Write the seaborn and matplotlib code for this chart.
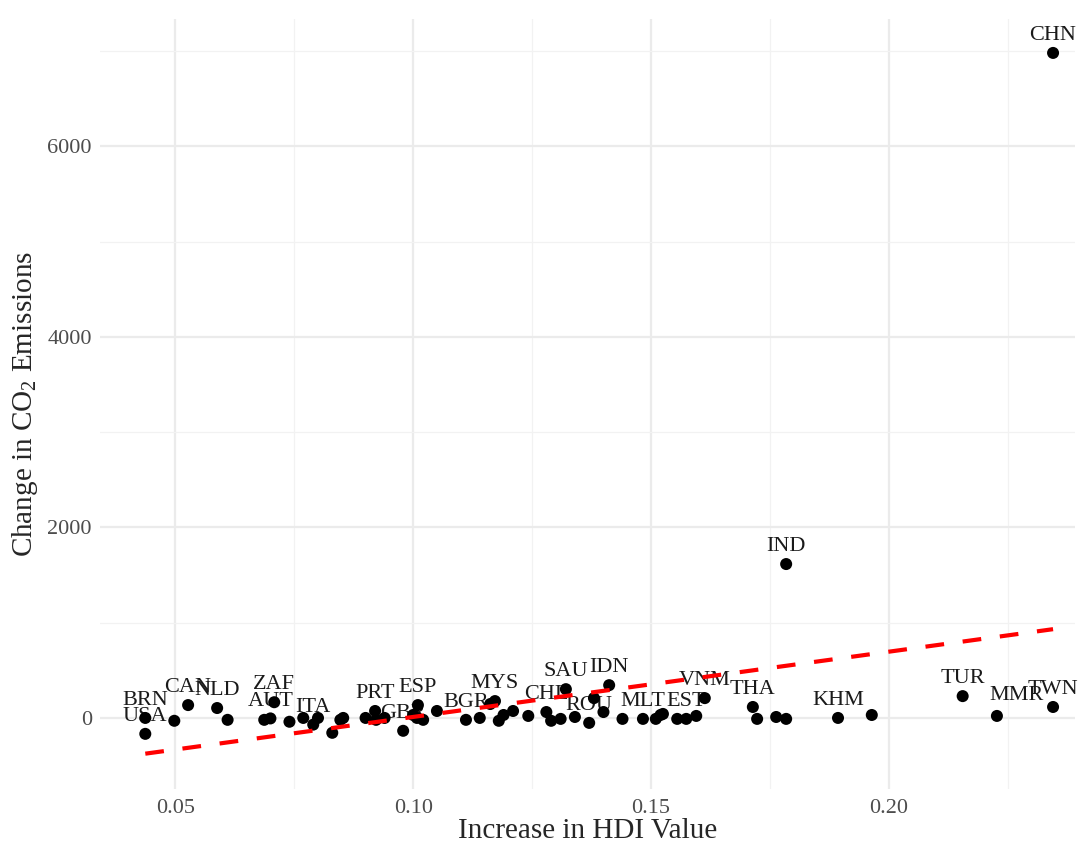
import numpy as np
import pandas as pd
import matplotlib
matplotlib.use('Agg')
import matplotlib.pyplot as plt
import seaborn as sns

# Datos (aumento de IDH vs cambio en emisiones de CO2)
hdi_increase = [0.0437, 0.0437, 0.0527, 0.0498, 0.0588, 0.0610, 0.0687, 0.0700,
                0.0708, 0.0740, 0.0769, 0.0790, 0.0800, 0.0830, 0.0847, 0.0853,
                0.0900, 0.0920, 0.0922, 0.0940, 0.0979, 0.1000, 0.1010, 0.1008,
                0.1021, 0.1050, 0.1111, 0.1140, 0.1162, 0.1172, 0.1180, 0.1190,
                0.1210, 0.1242, 0.1280, 0.1290, 0.1310, 0.1321, 0.1340, 0.1370,
                0.1380, 0.1400, 0.1412, 0.1440, 0.1483, 0.1510, 0.1520, 0.1525,
                0.1555, 0.1574, 0.1595, 0.1613, 0.1714, 0.1723, 0.1763, 0.1784,
                0.1784, 0.1893, 0.1964, 0.2155, 0.2227, 0.2345, 0.2345]
co2_change = [0, -167, 135, -30, 104, -20, -20, -5,
              165, -40, 0, -70, 0, -156, -20, 0,
              0, 73, -20, 0, -135, 31, 135, 0,
              -20, 73, -20, 0, 146, 177, -30, 31,
              73, 21, 62, -30, -10, 302, 10, -52,
              208, 62, 344, -10, -10, -10, 31, 42,
              -10, -10, 21, 208, 115, -10, 10, -10,
              1615, 0, 31, 229, 21, 115, 6979]
country = ['BRN', 'USA', 'CAN', '', 'NLD', '', '', 'AUT',
           'ZAF', '', '', 'ITA', '', '', '', '',
           '', 'PRT', '', '', 'GBR', '', 'ESP', '',
           '', '', 'BGR', '', '', 'MYS', '', '',
           '', '', 'CHL', '', '', 'SAU', '', 'ROU',
           '', '', 'IDN', '', 'MLT', '', '', '',
           '', 'EST', '', 'VNM', 'THA', '', '', '',
           'IND', 'KHM', '', 'TUR', 'MMR', 'TWN', 'CHN']

df = pd.DataFrame({'hdi': hdi_increase, 'co2': co2_change, 'iso': country})

sns.set_theme(style='white')
plt.rcParams['font.family'] = ['Liberation Serif', 'DejaVu Serif']
plt.rcParams['mathtext.fontset'] = 'custom'
plt.rcParams['mathtext.rm'] = 'Liberation Serif'

fig = plt.figure(figsize=(10.88, 8.47), dpi=100)
ax = fig.add_axes([0.092, 0.068, 0.896, 0.909])

# Etiquetas de países (debajo de los puntos)
for _, row in df[df['iso'] != ''].iterrows():
    dx, dy = (14, 15) if row['iso'] == 'MMR' else (0, 12.5)
    ax.annotate(row['iso'], (row['hdi'], row['co2']), xytext=(dx, dy),
                textcoords='offset points', ha='center', va='center',
                fontsize=16, color='#1a1a1a', zorder=2)

sns.scatterplot(data=df, x='hdi', y='co2', color='black', s=75,
                edgecolor='none', ax=ax, zorder=3)
sns.regplot(data=df, x='hdi', y='co2', scatter=False, ci=None, ax=ax,
            line_kws=dict(color='#ff0000', lw=3, linestyle=(0, (4.5, 4.5)),
                          zorder=4))

ax.set_xlim(0.0342, 0.2391)
ax.set_ylim(-750, 7330)
ax.set_xticks([0.05, 0.10, 0.15, 0.20])
ax.set_xticklabels(['0.05', '0.10', '0.15', '0.20'])
ax.set_xticks([0.075, 0.125, 0.175, 0.225], minor=True)
ax.set_yticks([0, 2000, 4000, 6000])
ax.set_yticks([1000, 3000, 5000, 7000], minor=True)
ax.grid(True, which='major', color='#ebebeb', lw=1.6)
ax.grid(True, which='minor', color='#f2f2f2', lw=0.9)
ax.set_axisbelow(True)
for s in ax.spines.values():
    s.set_visible(False)
ax.tick_params(which='both', length=0, labelsize=16, labelcolor='#4d4d4d')
ax.tick_params(axis='x', pad=7)
ax.tick_params(axis='y', pad=6)

ax.set_xlabel('Increase in HDI Value', fontsize=21, labelpad=0)
ax.set_ylabel(r'Change in CO$_\mathregular{2}$ Emissions', fontsize=21, labelpad=5)

fig.savefig('out.png', dpi=100)
